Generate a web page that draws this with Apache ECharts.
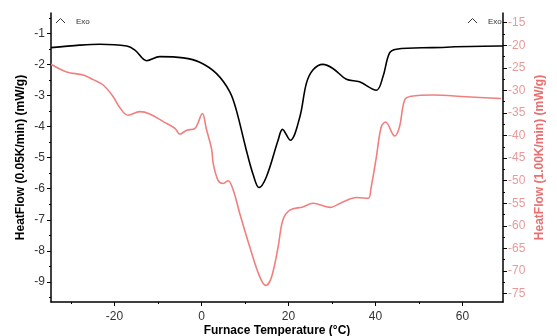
<!DOCTYPE html>
<html><head><meta charset="utf-8">
<script src="https://cdn.jsdelivr.net/npm/echarts@6/dist/echarts.min.js"></script>
<style>html,body{margin:0;padding:0;background:#fff}#c{width:557px;height:336px}</style>
</head><body><div id="c"></div>
<script>
// Temperature (°C) and heat flow values for slow scan (left axis, 0.05 K/min)
var slowTemp = [-34.6,-28,-23.4,-17.2,-15.3,-12.6,-9.6,-4.2,-0.4,3.4,6.5,8.0,10.3,11.9,13.2,14.9,17.6,18.6,20.4,22.6,24.1,25.6,27.9,30.2,33.3,36.3,40.2,41.7,43.2,44.8,53.1,68.5,69.3];
var slowFlow = [-1.46,-1.38,-1.35,-1.41,-1.54,-1.88,-1.75,-1.79,-1.93,-2.29,-2.88,-3.47,-4.76,-5.56,-5.96,-5.62,-4.44,-4.09,-4.44,-3.69,-2.61,-2.18,-2.0,-2.13,-2.48,-2.56,-2.83,-2.40,-1.64,-1.51,-1.46,-1.41,-1.41];
// Fast scan (right axis, 1.00 K/min)
var fastTemp = [-34.6,-31.0,-27.2,-24.9,-22.6,-20.3,-18.8,-16.9,-14.2,-11.9,-8.8,-6.1,-5.0,-3.4,-1.5,0.2,1.1,2.3,2.7,3.8,5.0,6.1,7.3,8.8,11.1,13.4,14.8,16.1,17.6,18.7,20.3,23.3,25.6,29.5,32.5,35.6,38.3,39.0,40.2,41.3,42.3,44.4,45.5,46.7,48.2,53.2,60.8,68.9];
var fastFlow = [-24.2,-25.9,-26.6,-27.6,-28.8,-31.4,-33.8,-35.5,-34.7,-35.2,-36.9,-38.4,-39.7,-38.8,-38.4,-35.1,-38.5,-42.9,-46.2,-49.9,-50.6,-50.0,-52.1,-57.3,-64.7,-71.3,-73.2,-71.3,-64.7,-58.7,-56.5,-55.8,-55.0,-55.9,-54.7,-53.7,-53.9,-51.4,-44.7,-38.1,-37.0,-40.1,-38.1,-32.1,-31.3,-31.0,-31.4,-31.8];
// Tick values
var xLabels = [-20,0,20,40,60];
var xMinor = [-30,-10,10,30,50];
var leftLabels = [-1,-2,-3,-4,-5,-6,-7,-8,-9];
var leftMinor = [-0.5,-1.5,-2.5,-3.5,-4.5,-5.5,-6.5,-7.5,-8.5,-9.5];
var rightLabels = [-15,-20,-25,-30,-35,-40,-45,-50,-55,-60,-65,-70,-75];
var rightMinor = [-17.5,-22.5,-27.5,-32.5,-37.5,-42.5,-47.5,-52.5,-57.5,-62.5,-67.5,-72.5];

function zip(a,b){return a.map(function(v,i){return [v,b[i]];});}
var FONT = '"Liberation Sans", Arial, sans-serif';
var X = {min:-34.6, max:69.3}, YL = {min:-9.644, max:-0.346}, YR = {min:-76.86, max:-12.85};
var chart = echarts.init(document.getElementById('c'));
chart.setOption({
  animation:false,
  grid:{left:51, right:54, top:13, bottom:34, containLabel:false, outerBoundsMode:'none'},
  xAxis:[{
    type:'value', min:X.min, max:X.max, position:'bottom',
    axisLine:{onZero:false, lineStyle:{color:'#000', width:1.5}},
    axisTick:{customValues:xLabels, length:4, lineStyle:{color:'#000'}},
    axisLabel:{customValues:xLabels, color:'#333', fontSize:12, fontFamily:FONT, margin:9},
    splitLine:{show:false},
    name:'Furnace Temperature (°C)', nameLocation:'middle', nameGap:23, nameMoveOverlap:false,
    nameTextStyle:{fontWeight:'bold', fontSize:12, color:'#000', fontFamily:FONT}
  },{
    type:'value', min:X.min, max:X.max, position:'bottom',
    axisLine:{show:false, onZero:false},
    axisTick:{customValues:xMinor, length:2, lineStyle:{color:'#000'}},
    axisLabel:{show:false}, splitLine:{show:false}
  }],
  yAxis:[{
    type:'value', min:YL.min, max:YL.max, position:'left',
    axisLine:{show:true, onZero:false, lineStyle:{color:'#000', width:1.5}},
    axisTick:{show:true, customValues:leftLabels, length:4, lineStyle:{color:'#000'}},
    axisLabel:{customValues:leftLabels, color:'#333', fontSize:12, fontFamily:FONT, margin:6},
    splitLine:{show:false},
    name:'HeatFlow (0.05K/min) (mW/g)', nameLocation:'middle', nameGap:24, nameRotate:90, nameMoveOverlap:false,
    nameTextStyle:{fontWeight:'bold', fontSize:12, color:'#000', fontFamily:FONT}
  },{
    type:'value', min:YL.min, max:YL.max, position:'left',
    axisLine:{show:false, onZero:false},
    axisTick:{show:true, customValues:leftMinor, length:2, lineStyle:{color:'#000'}},
    axisLabel:{show:false}, splitLine:{show:false}
  },{
    type:'value', min:YR.min, max:YR.max, position:'right',
    axisLine:{show:true, onZero:false, lineStyle:{color:'#000', width:1.5}},
    axisTick:{show:true, customValues:rightLabels, length:4, lineStyle:{color:'#000'}},
    axisLabel:{customValues:rightLabels, color:'#e89a9a', fontSize:12, fontFamily:FONT, margin:5},
    splitLine:{show:false},
    name:'HeatFlow (1.00K/min) (mW/g)', nameLocation:'middle', nameGap:31, nameRotate:90, nameMoveOverlap:false,
    nameTextStyle:{fontWeight:'bold', fontSize:12, color:'#e87070', fontFamily:FONT}
  },{
    type:'value', min:YR.min, max:YR.max, position:'right',
    axisLine:{show:false, onZero:false},
    axisTick:{show:true, customValues:rightMinor, length:2, lineStyle:{color:'#000'}},
    axisLabel:{show:false}, splitLine:{show:false}
  }],
  series:[{
    type:'line', xAxisIndex:0, yAxisIndex:0, data:zip(slowTemp, slowFlow),
    smooth:0.35, showSymbol:false, lineStyle:{color:'#000', width:1.6}
  },{
    type:'line', xAxisIndex:0, yAxisIndex:2, data:zip(fastTemp, fastFlow),
    smooth:0.35, showSymbol:false, lineStyle:{color:'#f08080', width:1.6}
  }],
  graphic:[
    {type:'polyline', shape:{points:[[56,23],[60.5,18.5],[65,23]]}, style:{stroke:'#333', lineWidth:1, fill:null}},
    {type:'text', left:76, top:18, style:{text:'Exo', font:'8px '+FONT, fill:'#333'}},
    {type:'polyline', shape:{points:[[468,23],[472.5,18.5],[477,23]]}, style:{stroke:'#333', lineWidth:1, fill:null}},
    {type:'text', left:488, top:18, style:{text:'Exo', font:'8px '+FONT, fill:'#333'}}
  ]
});
</script></body></html>
